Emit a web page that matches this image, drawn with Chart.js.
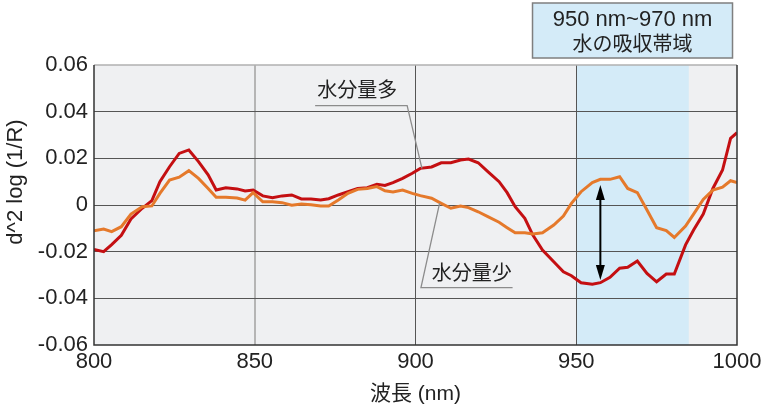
<!DOCTYPE html>
<html>
<head>
<meta charset="utf-8">
<script src="https://cdn.jsdelivr.net/npm/chart.js@4.4.0/dist/chart.umd.min.js"></script>
<style>
  html, body { margin: 0; padding: 0; background: #fff; }
  canvas { display: block; }
</style>
</head>
<body>
<canvas id="grafico" width="769" height="410"></canvas>
<script>
// Dados
const comprimentos = [800, 803, 805.5, 808.5, 811.5, 815, 818, 820.5, 823.5, 826.5, 829.5, 832.5, 835.5, 838, 841, 844.5, 847, 849.5,
  852.5, 855.5, 858.5, 861.5, 864.5, 867.5, 870.5, 873, 876, 879, 882, 885, 888, 890.5, 893, 896, 899,
  901.5, 905, 908, 911, 914, 916.5, 919.5, 922.5, 926, 928.5, 931, 934, 936.5, 939.5, 943, 946, 948.5,
  951.5, 955, 957.5, 960.5, 963.5, 966, 969, 972, 975, 978, 980.5, 984, 986.5, 989.5, 992.5, 995.5, 998, 1000];

const aguaAlta = [-0.019, -0.020, -0.017, -0.013, -0.006, -0.0014, 0.0019, 0.010, 0.0164, 0.0221, 0.0236, 0.0186, 0.0129, 0.0064, 0.0074, 0.0069, 0.0060, 0.0064,
  0.0039, 0.0031, 0.0039, 0.0043, 0.0026, 0.0026, 0.0021, 0.0027, 0.0043, 0.0057, 0.0071, 0.0074, 0.0089, 0.0084, 0.0096, 0.0114, 0.0136,
  0.0157, 0.0163, 0.0181, 0.0181, 0.0193, 0.0197, 0.0181, 0.0143, 0.0100, 0.0053, -0.0007, -0.0057, -0.0129, -0.0193, -0.0243, -0.0286, -0.0303,
  -0.0333, -0.0340, -0.0333, -0.0310, -0.0271, -0.0267, -0.0240, -0.0293, -0.0329, -0.0296, -0.0296, -0.0171, -0.0107, -0.0039, 0.0071, 0.0150, 0.0286, 0.0310];

const aguaBaixa = [-0.011, -0.0103, -0.0114, -0.0093, -0.0039, -0.0007, -0.0004, 0.0050, 0.0107, 0.0119, 0.0147, 0.0114, 0.0071, 0.0033, 0.0033, 0.0030, 0.0021, 0.0053,
  0.0014, 0.0014, 0.0010, -0.0001, 0.0004, 0.0001, -0.0004, -0.0004, 0.0021, 0.0050, 0.0067, 0.0071, 0.0079, 0.0061, 0.0056, 0.0064, 0.0050,
  0.0040, 0.0029, 0.0007, -0.0014, -0.0004, -0.0011, -0.0029, -0.0050, -0.0074, -0.0097, -0.0119, -0.0119, -0.0124, -0.0119, -0.0086, -0.0047, 0.0007,
  0.0057, 0.0096, 0.0110, 0.0110, 0.0121, 0.0071, 0.0053, -0.0021, -0.0097, -0.0110, -0.0139, -0.0090, -0.0039, 0.0024, 0.0064, 0.0076, 0.0104, 0.0096];

const nomesSeries = ['水分量多', '水分量少'];
const faixaAgua = [950, 985];
const textoFaixa = ['950 nm~970 nm', '水の吸収帯域'];
const tituloY = 'd^2 log (1/R)';
const tituloX = '波長 (nm)';
const seta = { x: 957.5, topo: 0.0086, base: -0.0321 };
const rotuloAlto = { texto: '水分量多', x1: 897.4, y: 0.0426, alvoX: 902, alvoY: 0.0157 };
const rotuloBaixo = { texto: '水分量少', x1: 901.7, x2: 930.2, y: -0.0354, alvoX: 907.5, alvoY: 0.0008 };

const fonte = '"Liberation Sans", Arial, "Noto Sans CJK JP", sans-serif';
const fonteJp = '"Noto Sans CJK JP", "Liberation Sans", sans-serif';

const pontos = (vals) => comprimentos.map((x, i) => ({ x: x, y: vals[i] }));

// Fundo + faixa azul
const fundoPlugin = {
  id: 'fundo',
  beforeDraw(chart) {
    const { ctx, chartArea: a, scales: { x } } = chart;
    ctx.save();
    ctx.fillStyle = '#eff0f2';
    ctx.fillRect(a.left, a.top, a.right - a.left, a.bottom - a.top);
    const x1 = x.getPixelForValue(faixaAgua[0]);
    const x2 = x.getPixelForValue(faixaAgua[1]);
    ctx.fillStyle = '#d4ebf8';
    ctx.fillRect(x1, a.top, x2 - x1, a.bottom - a.top);
    ctx.restore();
  }
};

// Moldura, seta, rotulos
const extrasPlugin = {
  id: 'extras',
  afterDraw(chart) {
    const { ctx, chartArea: a, scales: { x, y } } = chart;
    ctx.save();
    // moldura
    ctx.lineWidth = 1.5;
    ctx.strokeStyle = '#b0b0b0';
    ctx.beginPath(); ctx.moveTo(a.left, a.top); ctx.lineTo(a.right, a.top); ctx.stroke();
    ctx.strokeStyle = '#333';
    ctx.beginPath();
    ctx.moveTo(a.left, a.top); ctx.lineTo(a.left, a.bottom); ctx.lineTo(a.right, a.bottom); ctx.lineTo(a.right, a.top);
    ctx.stroke();

    // titulo eixo y
    ctx.save();
    ctx.translate(16, (a.top + a.bottom) / 2 - 23);
    ctx.rotate(-Math.PI / 2);
    ctx.fillStyle = '#222';
    ctx.font = '22px ' + fonte;
    ctx.textAlign = 'center'; ctx.textBaseline = 'middle';
    ctx.fillText(tituloY, 0, 0);
    ctx.restore();

    // seta dupla
    const sx = x.getPixelForValue(seta.x);
    const sy1 = y.getPixelForValue(seta.topo);
    const sy2 = y.getPixelForValue(seta.base);
    ctx.strokeStyle = '#000'; ctx.fillStyle = '#000'; ctx.lineWidth = 2;
    ctx.beginPath(); ctx.moveTo(sx, sy1 + 10); ctx.lineTo(sx, sy2 - 10); ctx.stroke();
    ctx.beginPath(); ctx.moveTo(sx, sy1); ctx.lineTo(sx - 4.5, sy1 + 15); ctx.lineTo(sx + 4.5, sy1 + 15); ctx.closePath(); ctx.fill();
    ctx.beginPath(); ctx.moveTo(sx, sy2); ctx.lineTo(sx - 4.5, sy2 - 15); ctx.lineTo(sx + 4.5, sy2 - 15); ctx.closePath(); ctx.fill();

    // rotulo 水分量多
    ctx.strokeStyle = '#8c8c8c'; ctx.lineWidth = 1.3;
    let ly = y.getPixelForValue(rotuloAlto.y);
    let lx1 = x.getPixelForValue(rotuloAlto.x1);
    ctx.beginPath();
    ctx.moveTo(lx1 - 92, ly); ctx.lineTo(lx1, ly);
    ctx.lineTo(x.getPixelForValue(rotuloAlto.alvoX), y.getPixelForValue(rotuloAlto.alvoY));
    ctx.stroke();
    ctx.fillStyle = '#222';
    ctx.font = '20px ' + fonteJp;
    ctx.textAlign = 'center'; ctx.textBaseline = 'middle';
    ctx.fillText(rotuloAlto.texto, lx1 - 50, ly - 16);

    // rotulo 水分量少
    ly = y.getPixelForValue(rotuloBaixo.y);
    lx1 = x.getPixelForValue(rotuloBaixo.x1);
    const lx2 = x.getPixelForValue(rotuloBaixo.x2);
    ctx.beginPath();
    ctx.moveTo(lx2, ly); ctx.lineTo(lx1, ly);
    ctx.lineTo(x.getPixelForValue(rotuloBaixo.alvoX), y.getPixelForValue(rotuloBaixo.alvoY));
    ctx.stroke();
    ctx.fillText(rotuloBaixo.texto, (lx1 + lx2) / 2 + 5, ly - 15);

    // caixa superior
    const cx = x.getPixelForValue((faixaAgua[0] + faixaAgua[1]) / 2);
    ctx.fillStyle = '#d4ebf8';
    ctx.fillRect(cx - 100, 3, 200, 55);
    ctx.strokeStyle = '#7f7f7f'; ctx.lineWidth = 1.5;
    ctx.strokeRect(cx - 100, 3, 200, 55);
    ctx.fillStyle = '#222';
    ctx.font = '22px ' + fonte;
    ctx.fillText(textoFaixa[0], cx, 20);
    ctx.font = '20px ' + fonteJp;
    ctx.fillText(textoFaixa[1], cx, 43);
    ctx.restore();
  }
};

const ctx = document.getElementById('grafico').getContext('2d');
new Chart(ctx, {
  type: 'line',
  data: {
    datasets: [
      { label: nomesSeries[1], data: pontos(aguaBaixa), borderColor: '#e5792b', borderWidth: 3, pointRadius: 0, tension: 0, fill: false },
      { label: nomesSeries[0], data: pontos(aguaAlta), borderColor: '#c40f12', borderWidth: 3, pointRadius: 0, tension: 0, fill: false }
    ]
  },
  options: {
    responsive: false,
    animation: false,
    devicePixelRatio: 1,
    layout: { padding: { top: 65, right: 32, left: 0, bottom: 0 } },
    plugins: { legend: { display: false }, tooltip: { enabled: false } },
    scales: {
      x: {
        type: 'linear', min: 800, max: 1000,
        ticks: {
          stepSize: 50, color: '#222', font: { family: fonte, size: 22 }, padding: 4, maxRotation: 0,
          callback: (v) => String(v)
        },
        grid: {
          drawTicks: false,
          color: (c) => c.tick && c.tick.value === 850 ? '#b5b5b5' : (c.tick && (c.tick.value === 900 || c.tick.value === 950) ? '#555' : 'rgba(0,0,0,0)'),
          lineWidth: (c) => c.tick && c.tick.value === 850 ? 2 : 1
        },
        border: { display: false },
        title: { display: true, text: tituloX, color: '#222', font: { family: fonte, size: 21 }, padding: { top: 0, bottom: 3 } },
        afterFit: (s) => { s.height = 65; }
      },
      y: {
        min: -0.06, max: 0.06,
        ticks: {
          stepSize: 0.02, color: '#222', font: { family: fonte, size: 22 }, padding: 6,
          callback: (v) => Math.abs(v) < 1e-9 ? '0' : v.toFixed(2)
        },
        grid: {
          drawTicks: false,
          color: (c) => c.tick && Math.abs(Math.abs(c.tick.value) - 0.06) < 1e-9 ? 'rgba(0,0,0,0)' : '#555',
          lineWidth: 1
        },
        border: { display: false },
        title: { display: false },
        afterFit: (s) => { s.width = 94; }
      }
    }
  },
  plugins: [fundoPlugin, extrasPlugin]
});
</script>
</body>
</html>
